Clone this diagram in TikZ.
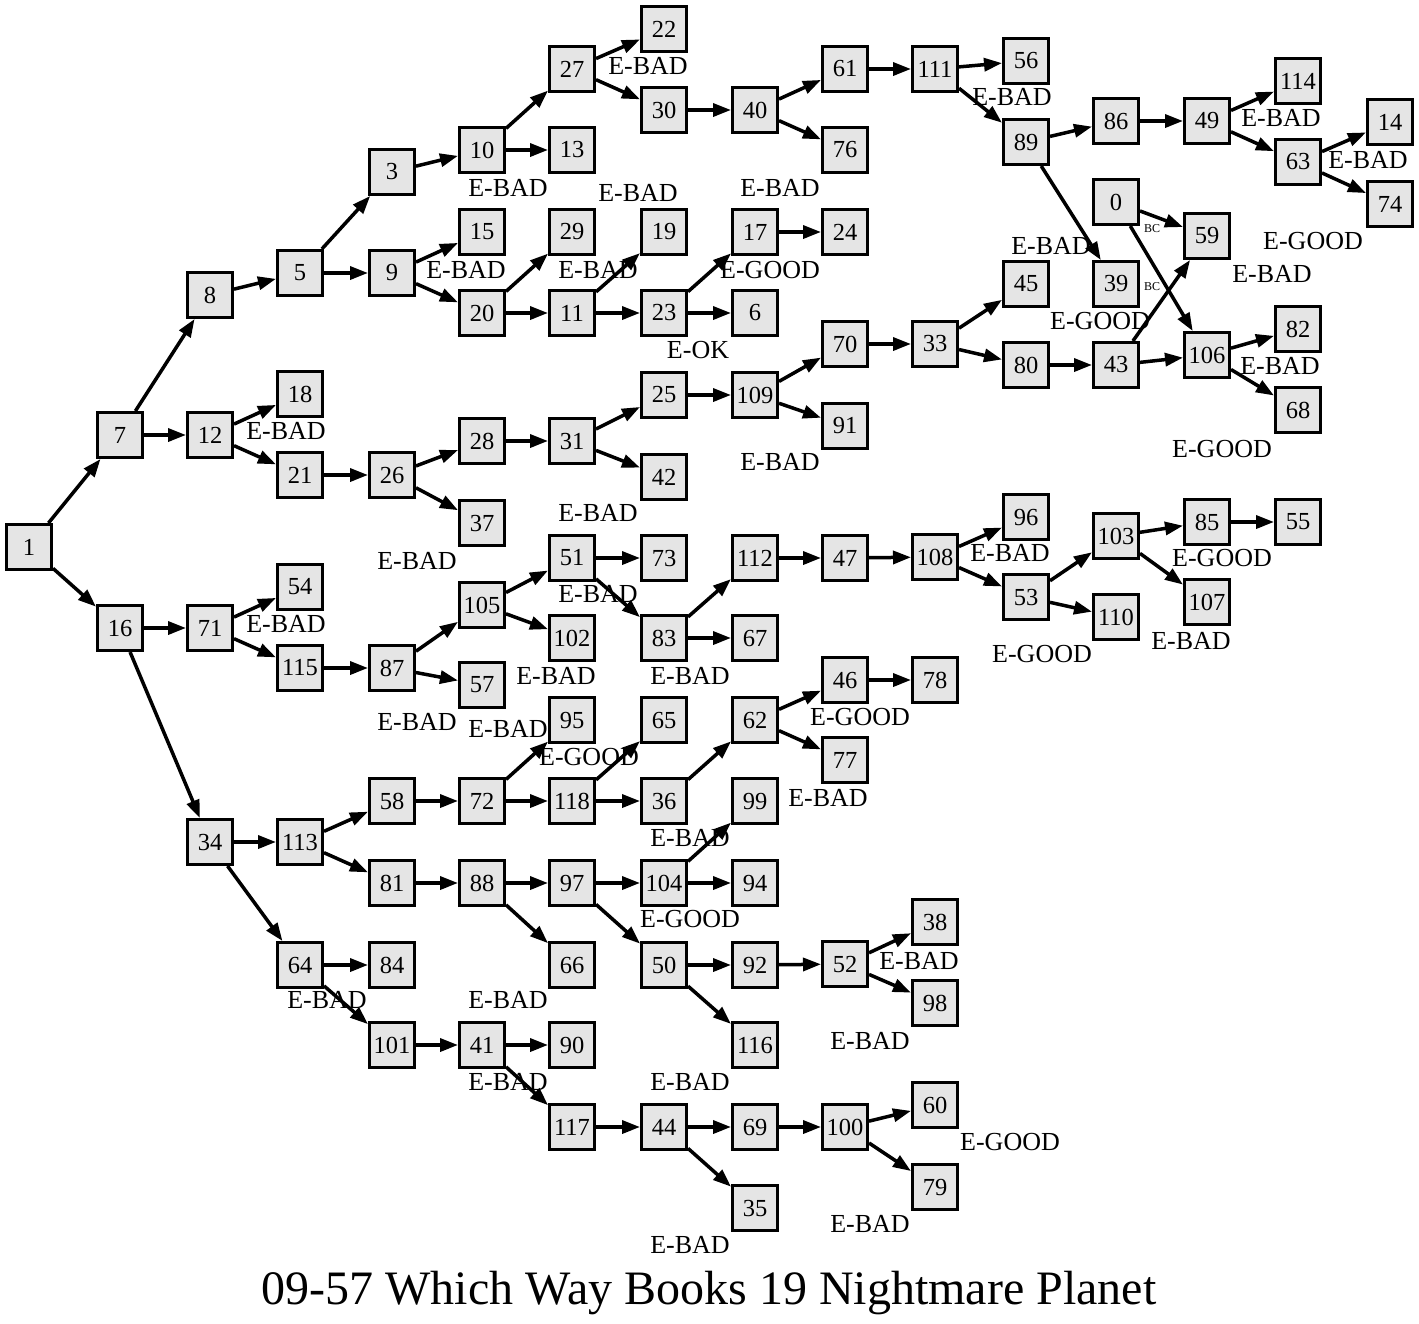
\documentclass[tikz,border=0pt]{standalone}
\usepackage{fontspec}
\setmainfont{Liberation Serif}
\usetikzlibrary{arrows.meta}
\definecolor{boxfill}{RGB}{229,229,229}
\tikzset{box/.style={draw=black,fill=boxfill,line width=3pt,minimum size=45pt,inner sep=0pt,font=\fontsize{24.5}{24.5}\selectfont},
  flow/.style={-{Triangle[length=18pt,width=13pt]},line width=3.5pt,black},
  labeltext/.style={inner sep=0pt,font=\fontsize{26}{26}\selectfont},
  smalltext/.style={inner sep=0pt,font=\fontsize{12}{12}\selectfont}}

\begin{document}
\begin{tikzpicture}[x=1pt,y=-1pt]
\useasboundingbox (0,0) rectangle (1419,1323);
% story nodes, placed by column
\foreach \n/\x/\y in {1/29/547,
  7/120/435,16/120/628,
  8/210/295,12/210/435,71/210/628,34/210/842,
  5/300/273,18/300/394,21/300/475,54/300/587,115/300/668,113/300/842,64/300/965,
  3/392/172,9/392/273,26/392/475,87/392/668,58/392/801,81/392/883,84/392/965,101/392/1045,
  10/482/150,15/482/232,20/482/313,28/482/441,37/482/523,105/482/605,57/482/685,72/482/801,88/482/883,41/482/1045,
  27/572/69,13/572/150,29/572/232,11/572/313,31/572/441,51/572/558,102/572/638,95/572/720,118/572/801,97/572/883,66/572/965,90/572/1045,117/572/1127,
  22/664/29,30/664/110,19/664/232,23/664/313,25/664/395,42/664/477,73/664/558,83/664/638,65/664/720,36/664/801,104/664/883,50/664/965,44/664/1127,
  40/755/110,17/755/232,6/755/313,109/755/395,112/755/558,67/755/638,62/755/720,99/755/801,94/755/883,92/755/965,116/755/1045,69/755/1127,35/755/1208,
  61/845/69,76/845/150,24/845/232,70/845/344,91/845/426,47/845/558,46/845/680,77/845/760,52/845/964,100/845/1127,
  111/935/69,33/935/344,108/935/557,78/935/680,38/935/922,98/935/1003,60/935/1105,79/935/1187,
  56/1026/61,89/1026/142,45/1026/284,80/1026/365,96/1026/517,53/1026/597,
  86/1116/121,0/1116/202,39/1116/284,43/1116/365,103/1116/536,110/1116/617,
  49/1207/121,59/1207/236,106/1207/355,85/1207/522,107/1207/602,
  114/1298/81,63/1298/162,82/1298/329,68/1298/410,55/1298/522,
  14/1390/122,74/1390/204}
  \node[box] (n\n) at (\x,\y) {\n};
% choices
\foreach \a/\b in {1/7,1/16,7/8,7/12,16/71,16/34,8/5,12/18,12/21,71/54,71/115,34/113,34/64,
  5/3,5/9,21/26,115/87,113/58,113/81,64/84,64/101,3/10,9/15,9/20,26/28,26/37,87/105,87/57,
  58/72,81/88,101/41,10/27,10/13,20/29,20/11,28/31,105/51,105/102,72/95,72/118,88/97,88/66,
  41/90,41/117,27/22,27/30,11/19,11/23,31/25,31/42,51/73,51/83,118/65,118/36,97/104,97/50,
  117/44,30/40,23/17,23/6,25/109,83/112,83/67,36/62,104/99,104/94,50/92,50/116,44/69,44/35,
  40/61,40/76,17/24,109/70,109/91,112/47,62/46,62/77,92/52,69/100,61/111,70/33,47/108,46/78,
  52/38,52/98,100/60,100/79,111/56,111/89,33/45,33/80,108/96,108/53,89/86,89/39,80/43,
  53/103,53/110,86/49,0/59,0/106,43/59,43/106,103/85,103/107,49/114,49/63,106/82,106/68,
  85/55,63/14,63/74}
  \draw[flow] (n\a) -- (n\b);
% endings
\foreach \x/\y/\t in {648/66/E-BAD,508/188/E-BAD,638/193/E-BAD,780/188/E-BAD,1012/97/E-BAD,
  1051/246/E-BAD,1100/321/E-GOOD,770/270/E-GOOD,698/350/E-OK,598/270/E-BAD,466/270/E-BAD,
  286/431/E-BAD,780/462/E-BAD,598/513/E-BAD,417/561/E-BAD,1010/553/E-BAD,1222/558/E-GOOD,
  1191/641/E-BAD,1042/654/E-GOOD,598/594/E-BAD,286/624/E-BAD,556/676/E-BAD,690/676/E-BAD,
  417/722/E-BAD,508/729/E-BAD,589/757/E-GOOD,860/717/E-GOOD,828/798/E-BAD,690/838/E-BAD,
  690/919/E-GOOD,919/961/E-BAD,870/1041/E-BAD,327/1000/E-BAD,508/1000/E-BAD,508/1082/E-BAD,
  690/1082/E-BAD,1010/1142/E-GOOD,870/1224/E-BAD,690/1245/E-BAD,1281/118/E-BAD,1368/160/E-BAD,
  1313/241/E-GOOD,1272/274/E-BAD,1280/366/E-BAD,1222/449/E-GOOD}
  \node[labeltext] at (\x,\y) {\t};
\node[smalltext] (bca) at (1152,229) {BC};
\node[smalltext] (bcb) at (1152,287) {BC};
\node[anchor=base,inner sep=0pt,font=\fontsize{48}{48}\selectfont] (title) at (709,1304) {09-57 Which Way Books 19 Nightmare Planet};
\end{tikzpicture}
\end{document}
